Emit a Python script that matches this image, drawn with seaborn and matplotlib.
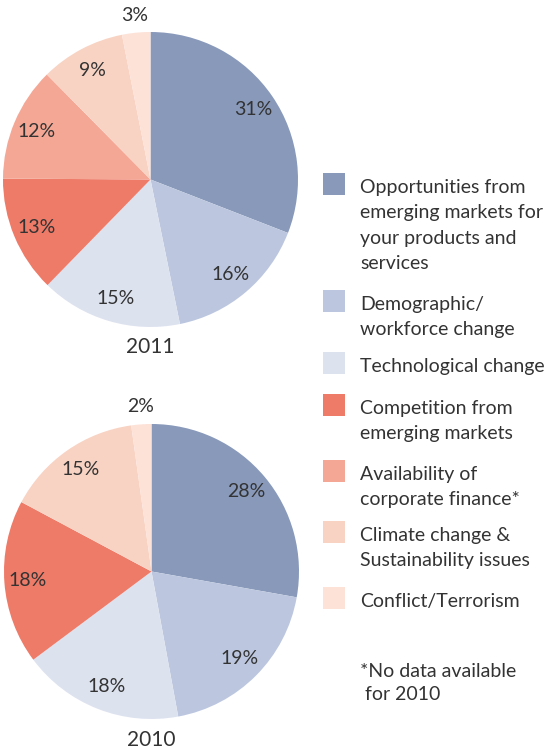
import matplotlib
matplotlib.use("Agg")
import matplotlib.pyplot as plt
from matplotlib.patches import Rectangle
import numpy as np
import seaborn as sns

# ---- data ----
categories = [
    "Opportunities from\nemerging markets for\nyour products and\nservices",
    "Demographic/\nworkforce change",
    "Technological change",
    "Competition from\nemerging markets",
    "Availability of\ncorporate finance*",
    "Climate change &\nSustainability issues",
    "Conflict/Terrorism",
]
# slice shares as drawn (estimated) and the printed rounded labels
values_2011 = [30.9, 15.9, 15.5, 12.8, 12.5, 9.3, 3.1]
labels_2011 = [31, 16, 15, 13, 12, 9, 3]
cats_2010 = [0, 1, 2, 3, 5, 6]          # index into categories (no finance data)
values_2010 = [27.8, 19.3, 17.7, 18.0, 15.0, 2.2]
labels_2010 = [28, 19, 18, 18, 15, 2]
footnote = "*No data available\n for 2010"

colors = ["#8899BA", "#BCC7DF", "#DDE2EF", "#EE7A68", "#F4A795", "#F8D3C3", "#FCE2D7"]
TEXT = "#333333"

sns.set_theme(style="white")
plt.rcParams["font.family"] = ["Lato", "DejaVu Sans"]

W, H = 547, 750
fig = plt.figure(figsize=(W / 100, H / 100), dpi=100)


def add_pie(cx, cy, r, vals, labs, cols, year, year_y):
    ax = fig.add_axes([(cx - r) / W, 1 - (cy + r) / H, 2 * r / W, 2 * r / H])
    wedges, _ = ax.pie(vals, colors=cols, startangle=90, counterclock=False,
                       wedgeprops=dict(linewidth=0))
    ax.set_xlim(-1, 1)
    ax.set_ylim(-1, 1)
    ax.set_aspect("equal")
    ax.axis("off")
    for w, v in zip(wedges, labs):
        mid = np.deg2rad((w.theta1 + w.theta2) / 2)
        d = 1.12 if v < 5 else 0.84
        ax.text(d * np.cos(mid), d * np.sin(mid), f"{v}%", ha="center",
                va="center", fontsize=14, color=TEXT)
    fig.text(cx / W, 1 - year_y / H, year, ha="center", va="center",
             fontsize=15, color=TEXT)


add_pie(150.5, 179.5, 147.5, values_2011, labels_2011, colors, "2011", 347)
add_pie(151.5, 571.5, 147.5, values_2010, labels_2010,
        [colors[i] for i in cats_2010], "2010", 740)

# ---- legend ----
sq_tops = [173, 290, 352, 394, 460, 521, 587]
for top, lab, col in zip(sq_tops, categories, colors):
    fig.patches.append(Rectangle((323 / W, 1 - (top + 22) / H), 22 / W, 22 / H,
                                 transform=fig.transFigure, facecolor=col,
                                 edgecolor="none"))
    base = top + 20
    for i, line in enumerate(lab.split("\n")):
        fig.text(360 / W, 1 - (base + i * 25.3) / H, line, ha="left",
                 va="baseline", fontsize=14, color=TEXT)

for i, line in enumerate(footnote.split("\n")):
    fig.text(360 / W, 1 - (677 + i * 23) / H, line, ha="left", va="baseline",
             fontsize=14, color=TEXT)

fig.savefig("out.png", dpi=100, facecolor="white")
